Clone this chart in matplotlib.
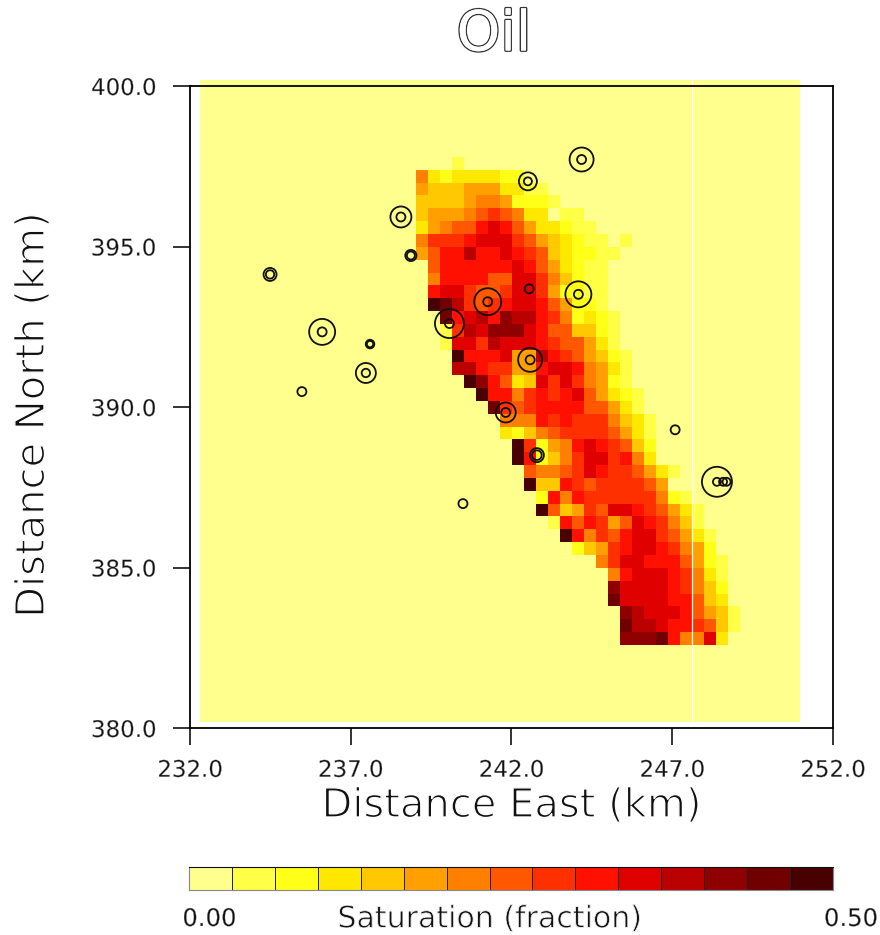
import numpy as np
import matplotlib
matplotlib.use("Agg")
import matplotlib.pyplot as plt
from matplotlib.colors import ListedColormap, BoundaryNorm
import matplotlib.patheffects as pe

plt.rcParams['font.family'] = ['DejaVu Sans']

W, H = 880, 935

# colour scale: 15 classes from 0.00 to 0.50
level_colors = ['#FFFF8E', '#FFFF45', '#FFFF18', '#FFE800', '#FFC800',
                '#FFA000', '#FF8000', '#FF5800', '#FF3000', '#FF1000',
                '#E00000', '#BB0000', '#900000', '#700000', '#480000']
sat_min, sat_max = 0.0, 0.5

# grid of the saturation map (50 x 50 cells)
n_cols, n_rows = 50, 50
grid_x0, grid_dx = 232.31, 0.3733
grid_ytop, grid_dy = 400.19, 0.4

# saturation classes (hex digit = class index) per grid row, from the top row
first_row = 6
row_start = [21, 18, 18, 18, 18, 18, 18, 18, 19, 19, 19, 19, 20, 20, 20, 21, 21,
             22, 23, 24, 25, 25, 26, 26, 27, 27, 28, 28, 29, 30, 31, 33, 34, 34,
             34, 35, 35, 35]
row_levels = ["1", "632333322", "54445553311", "444456652221", "45556787633011",
              "356779a97533211", "68889aaa8754321101", "5799b99a987432211",
              "7999999a9753211", "6999977aa864211", "9aa8778aa852211",
              "edb8789aa975221", "d9ab9cbb9862321", "18baccca9774421",
              "1aa8baaa9877531", "e999a55b9875421", "bb988559aa96531",
              "ec9734a8a86521", "e9968989a75321", "d878999977531",
              "6669898886431", "3246788887531", "e82569a98742", "e92468aa8963",
              "76678a9887531", "e44987888875", "2969888888621", "e74587aa987531",
              "1979857a98641", "e96879aa87531", "24589aa98652", "68aa9997521",
              "69aaa98631", "caaaa98642", "daaaa99743", "cbaaa97541",
              "dbba998741", "cccd966a3"]

# wells: position (km) and circle radii (px)
well_x = [244.18, 242.51, 238.56, 234.49, 238.87, 242.55, 244.08, 241.26, 240.07,
          236.11, 237.60, 242.58, 237.47, 235.48, 241.82, 247.09, 242.79, 248.39,
          248.58, 248.69, 240.49]
well_y = [397.71, 397.03, 395.92, 394.13, 394.72, 393.68, 393.51, 393.28, 392.60,
          392.34, 391.96, 391.47, 391.06, 390.48, 389.83, 389.29, 388.50, 387.67,
          387.67, 387.67, 386.99]
well_outer = [12, 9, 10.5, 6.5, 5.6, 0, 13, 13.5, 14.5, 13, 4.3, 12, 10, 0, 10, 0,
              7, 15, 0, 0, 0]
well_inner = [4.5, 4, 4.5, 4.2, 4, 4.5, 4.5, 4.5, 4.5, 4.5, 3.2, 4.5, 4.2, 4.5, 4.5,
              4.5, 4.8, 4, 4, 4, 4.5]

xticks = [232, 237, 242, 247, 252]
yticks = [380, 385, 390, 395, 400]

# ---------------------------------------------------------------------
sat = np.zeros((n_rows, n_cols))
for k, (start, levels) in enumerate(zip(row_start, row_levels)):
    for m, ch in enumerate(levels):
        sat[first_row + k, start + m] = (int(ch, 16) + 0.5) / 15 * sat_max

cmap = ListedColormap(level_colors)
bounds = np.linspace(sat_min, sat_max, 16)
norm = BoundaryNorm(bounds, 15)


def rect(l, t, r, b):
    return [l / W, 1 - b / H, (r - l) / W, (b - t) / H]


def thin(stroke):
    # erode the glyphs with a white outline, for the thin plotter-style lettering
    return [pe.Normal(), pe.Stroke(linewidth=stroke, foreground='white')]


fig = plt.figure(figsize=(W / 100, H / 100), dpi=100, facecolor='white')
ax = fig.add_axes(rect(190, 86, 833, 728))
ax.set_xlim(232, 252)
ax.set_ylim(380, 400)

xe = grid_x0 + grid_dx * np.arange(n_cols + 1)
ye = grid_ytop - grid_dy * np.arange(n_rows + 1)
mesh = ax.pcolormesh(xe, ye, sat, cmap=cmap, norm=norm, shading='flat',
                     linewidth=0, rasterized=True, clip_on=False, zorder=1)
ax.vlines(xe[41], ye[-1], ye[0], colors='white', lw=0.9, clip_on=False, zorder=1.5)

LW = 1.3
px2pt = 0.72
for r_list in (well_outer, well_inner):
    r = np.array(r_list, float)
    keep = r > 0
    ax.scatter(np.array(well_x)[keep], np.array(well_y)[keep],
               s=(2 * r[keep] * px2pt) ** 2, facecolors='none', edgecolors='#111111',
               linewidths=LW, zorder=3)

for s in ('top', 'right', 'left', 'bottom'):
    ax.spines[s].set_linewidth(1.3)
    ax.spines[s].set_zorder(4)
ax.set_xticks(xticks)
ax.set_yticks(yticks)
ax.set_xticklabels([f'{v:.1f}' for v in xticks])
ax.set_yticklabels([f'{v:.1f}' for v in yticks])
ax.tick_params(axis='x', length=12.2, width=1.2, pad=10, labelsize=16.5, colors='#111111')
ax.tick_params(axis='y', length=12.2, width=1.2, pad=12, labelsize=16.5, colors='#111111')
for lab in ax.get_xticklabels() + ax.get_yticklabels():
    lab.set_path_effects(thin(0.25))

ax.set_xlabel('Distance East (km)', fontsize=28.8, color='#111111', va='center',
              path_effects=thin(1.0))
ax.xaxis.set_label_coords(0.5, -(806 - 728) / 642)
ax.set_ylabel('Distance North (km)', fontsize=28.8, color='#111111', va='center',
              path_effects=thin(1.0))
ax.yaxis.set_label_coords(-(190 - 33) / 643, (728 - 415) / 642)

fig.text(494 / W, 1 - 35.5 / H, 'Oil', fontsize=40, color='white', ha='center', va='center',
         path_effects=[pe.withStroke(linewidth=2.0, foreground='#333333'), pe.Normal()])

# colour bar
cax = fig.add_axes(rect(189, 867, 833, 890))
cax.pcolormesh(bounds, [0, 1], np.array([(bounds[:-1] + bounds[1:]) / 2]), cmap=cmap, norm=norm,
               edgecolors='#222222', linewidth=0.6)
cax.set_xlim(sat_min, sat_max)
cax.set_ylim(0, 1)
cax.set_xticks([])
cax.set_yticks([])
for s, sp in cax.spines.items():
    sp.set_linewidth(0.8)
    sp.set_color('#111111' if s == 'top' else '#888888')

fig.text(209.5 / W, 1 - 919 / H, f'{sat_min:.2f}', fontsize=17.5, color='#111111', ha='center',
         va='center', path_effects=thin(0.25))
fig.text(851 / W, 1 - 919 / H, f'{sat_max:.2f}', fontsize=17.5, color='#111111', ha='center',
         va='center', path_effects=thin(0.25))
fig.text(490 / W, 1 - 919 / H, 'Saturation (fraction)', fontsize=21.6, color='#111111',
         ha='center', va='center', path_effects=thin(0.6))

fig.savefig('out.png', dpi=100)
